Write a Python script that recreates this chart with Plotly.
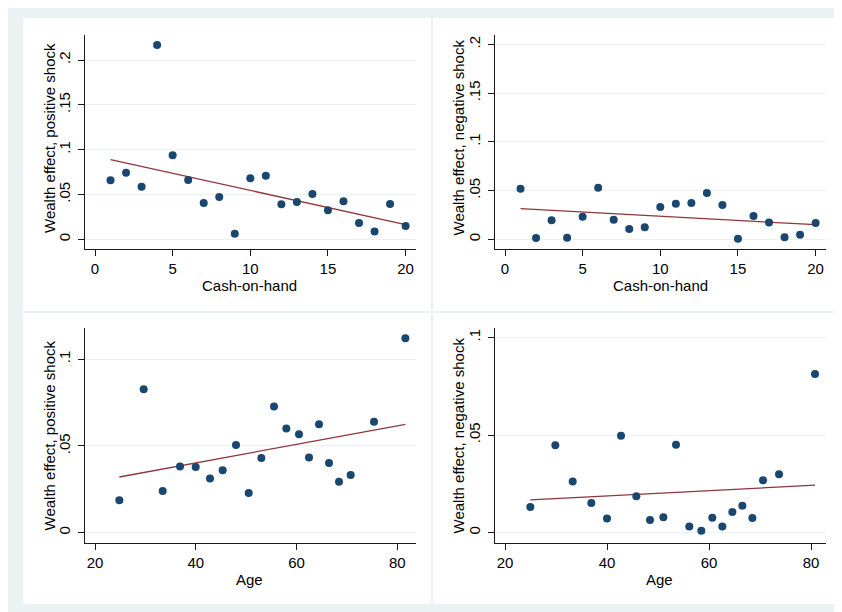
import plotly.graph_objects as go

# ---------------- data ----------------
cash = list(range(1, 21))
pos_cash = [0.0658, 0.0743, 0.0587, 0.2167, 0.0937, 0.0662, 0.0405, 0.0472, 0.0063, 0.0680,
            0.0710, 0.0390, 0.0416, 0.0506, 0.0323, 0.0424, 0.0182, 0.0086, 0.0394, 0.0149]
neg_cash = [0.0520, 0.0014, 0.0195, 0.0017, 0.0232, 0.0530, 0.0202, 0.0106, 0.0123, 0.0332,
            0.0366, 0.0373, 0.0475, 0.0352, 0.0007, 0.0239, 0.0174, 0.0021, 0.0048, 0.0168]

age_pos = [24.83, 29.66, 33.43, 36.87, 39.98, 42.82, 45.33, 47.98, 50.50, 53.01,
           55.52, 57.97, 60.48, 62.47, 64.45, 66.44, 68.42, 70.74, 75.37, 81.59]
pos_age = [0.0187, 0.0827, 0.0240, 0.0381, 0.0379, 0.0313, 0.0360, 0.0506, 0.0229, 0.0431,
           0.0727, 0.0600, 0.0567, 0.0433, 0.0625, 0.0402, 0.0294, 0.0333, 0.0640, 0.1121]

age_neg = [24.97, 29.87, 33.27, 36.93, 40.00, 42.75, 45.75, 48.43, 51.05, 53.53,
           56.14, 58.50, 60.65, 62.61, 64.58, 66.54, 68.50, 70.59, 73.73, 80.78]
neg_age = [0.0132, 0.0448, 0.0262, 0.0152, 0.0072, 0.0496, 0.0186, 0.0065, 0.0079, 0.0450,
           0.0031, 0.0010, 0.0077, 0.0032, 0.0106, 0.0138, 0.0075, 0.0268, 0.0299, 0.0812]

# fitted lines (endpoints)
fit_cash_x = [1, 20]
fit_pos_cash_y = [0.0888, 0.0164]
fit_neg_cash_y = [0.0315, 0.0150]
fit_age_pos_x = [24.83, 81.59]
fit_pos_age_y = [0.0321, 0.0625]
fit_age_neg_x = [24.97, 80.78]
fit_neg_age_y = [0.0168, 0.0243]

cash_ticks = [0, 5, 10, 15, 20]
age_ticks = [20, 40, 60, 80]
y_ticks_big = [0, 0.05, 0.1, 0.15, 0.2]
y_ticks_big_text = ["0", ".05", ".1", ".15", ".2"]
y_ticks_small = [0, 0.05, 0.1]
y_ticks_small_text = ["0", ".05", ".1"]

x_titles = ["Cash-on-hand", "Cash-on-hand", "Age", "Age"]
y_titles = ["Wealth effect, positive shock", "Wealth effect, negative shock",
            "Wealth effect, positive shock", "Wealth effect, negative shock"]

# ---------------- styles ----------------
OFF = 8                      # page body margin offset
W, H = 842 - OFF, 612 - OFF
MARK = "#1A476F"
LINE = "#90353B"
GRID = "#EAF2F3"
BG = "#EAF2F3"
TXT = "#000000"
AX = "#1a1a1a"
FONT = "Liberation Sans, Arial, sans-serif"
FS = 15

fig = go.Figure()

panels = [
    (1, cash, pos_cash, fit_cash_x, fit_pos_cash_y),
    (2, cash, neg_cash, fit_cash_x, fit_neg_cash_y),
    (3, age_pos, pos_age, fit_age_pos_x, fit_pos_age_y),
    (4, age_neg, neg_age, fit_age_neg_x, fit_neg_age_y),
]
for i, xs, ys, fx, fy in panels:
    xa = "x" if i == 1 else f"x{i}"
    ya = "y" if i == 1 else f"y{i}"
    fig.add_trace(go.Scatter(x=fx, y=fy, mode="lines", xaxis=xa, yaxis=ya,
                             line=dict(color=LINE, width=1.3),
                             showlegend=False, hoverinfo="skip"))
    fig.add_trace(go.Scatter(x=xs, y=ys, mode="markers", xaxis=xa, yaxis=ya,
                             marker=dict(color=MARK, size=8, line=dict(width=0)),
                             showlegend=False, hoverinfo="skip"))

def fx_(px):
    return (px - OFF) / W

def fy_(py):
    return 1 - (py - OFF) / H

xdom_l = [fx_(85), fx_(416)]
xdom_r = [fx_(495), fx_(826)]
ydom_t = [fy_(249), fy_(35)]
ydom_b = [fy_(542.7), fy_(328)]

def xaxis(dom, rng, ticks, anchor):
    return dict(domain=dom, range=rng, tickvals=ticks, ticktext=[str(t) for t in ticks],
                showgrid=False, zeroline=False, showline=True, linecolor=AX, linewidth=1,
                ticks="outside", ticklen=6, tickcolor=AX, tickwidth=1,
                ticklabelstandoff=0,
                tickfont=dict(size=FS, color=TXT, family=FONT),
                anchor=anchor, fixedrange=True)

def yaxis(dom, rng, ticks, text, anchor):
    return dict(domain=dom, range=rng, tickvals=ticks, ticktext=text, tickangle=-90,
                showgrid=True, gridcolor=GRID, gridwidth=1,
                zeroline=False, showline=True, linecolor=AX, linewidth=1,
                ticks="outside", ticklen=6, tickcolor=AX, tickwidth=1,
                ticklabelstandoff=2,
                tickfont=dict(size=FS, color=TXT, family=FONT),
                anchor=anchor, fixedrange=True)

fig.update_layout(
    width=W, height=H,
    margin=dict(l=0, r=0, t=0, b=0),
    paper_bgcolor="white", plot_bgcolor="white",
    font=dict(family=FONT, color=TXT),
    xaxis=xaxis(xdom_l, [-0.644, 20.67], cash_ticks, "y"),
    yaxis=yaxis(ydom_t, [-0.0108, 0.2279], y_ticks_big, y_ticks_big_text, "x"),
    xaxis2=xaxis(xdom_r, [-0.644, 20.67], cash_ticks, "y2"),
    yaxis2=yaxis(ydom_t, [-0.0099, 0.2096], y_ticks_big, y_ticks_big_text, "x2"),
    xaxis3=xaxis(xdom_l, [18.015, 83.70], age_ticks, "y3"),
    yaxis3=yaxis(ydom_b, [-0.00577, 0.1180], y_ticks_small, y_ticks_small_text, "x3"),
    xaxis4=xaxis(xdom_r, [18.04, 82.94], age_ticks, "y4"),
    yaxis4=yaxis(ydom_b, [-0.00513, 0.10479], y_ticks_small, y_ticks_small_text, "x4"),
)

# axis titles as positioned text
xt_pos = [(250, 285.5), (660, 285.5), (250, 579), (659.5, 579)]
yt_pos = [(49, 138), (458, 137.5), (49, 435.5), (458, 435.5)]
annotations = []
for t, (px, py) in zip(x_titles, xt_pos):
    annotations.append(dict(text=t, x=fx_(px), y=fy_(py), xref="paper", yref="paper",
                            xanchor="center", yanchor="middle", showarrow=False,
                            font=dict(size=FS, color=TXT, family=FONT)))
for t, (px, py) in zip(y_titles, yt_pos):
    annotations.append(dict(text=t, x=fx_(px), y=fy_(py), xref="paper", yref="paper",
                            xanchor="center", yanchor="middle", showarrow=False,
                            textangle=-90,
                            font=dict(size=FS, color=TXT, family=FONT)))

# background frame and white panels (page pixel coordinates)
shapes = [dict(type="rect", xref="paper", yref="paper", layer="below",
               x0=0, x1=1, y0=0, y1=1, fillcolor=BG, line=dict(width=0))]
for (l, r, t, b) in [(23, 431, 18, 311), (433, 842, 18, 311),
                     (23, 431, 313, 604), (433, 842, 313, 604)]:
    shapes.append(dict(type="rect", xref="paper", yref="paper", layer="below",
                       x0=fx_(l), x1=fx_(r), y0=fy_(b), y1=fy_(t),
                       fillcolor="white", line=dict(width=0)))
fig.update_layout(shapes=shapes, annotations=annotations)

fig.write_html("out.html")
